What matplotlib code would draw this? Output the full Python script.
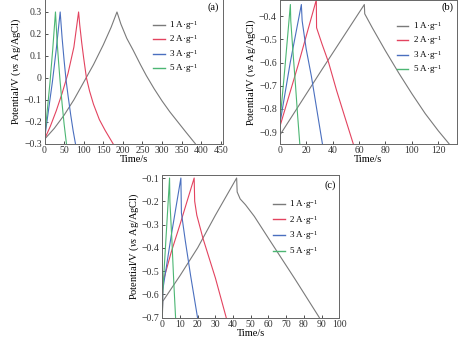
import matplotlib
matplotlib.use("Agg")
import matplotlib.pyplot as plt
from matplotlib.ticker import FuncFormatter

plt.rcParams["font.family"] = ["Liberation Serif", "DejaVu Serif"]
plt.rcParams["mathtext.fontset"] = "custom"
plt.rcParams["mathtext.rm"] = "Liberation Serif"
plt.rcParams["mathtext.it"] = "Liberation Serif:italic"

labels = ["1 A·g$^{-1}$", "2 A·g$^{-1}$", "3 A·g$^{-1}$", "5 A·g$^{-1}$"]
colors = ["#7a7a7a", "#e3435f", "#4a6fbf", "#4cb673"]

# panel (a)
a_time = [
    [0, 25, 50, 75, 100, 125, 150, 170, 185,
     195, 210, 226, 245, 260, 280, 300, 320, 340, 360, 385],
    [0, 15, 30, 45, 60, 75, 87,
     90, 95, 100, 107, 115, 125, 140, 155, 175],
    [0, 10, 20, 30, 40, 45, 50, 55, 60, 67, 73, 79],
    [0, 7, 14, 21, 28, 32, 36, 40, 45, 50, 56],
]
a_pot = [
    [-0.28, -0.23, -0.17, -0.1, -0.02, 0.06, 0.15, 0.23, 0.3,
     0.245, 0.18, 0.127, 0.06, 0.01, -0.05, -0.105, -0.155, -0.2, -0.245, -0.3],
    [-0.28, -0.22, -0.15, -0.07, 0.02, 0.14, 0.3,
     0.24, 0.16, 0.09, 0.0, -0.06, -0.12, -0.19, -0.24, -0.3],
    [-0.28, -0.15, -0.02, 0.13, 0.3, 0.18, 0.08, -0.01, -0.08, -0.17, -0.24, -0.3],
    [-0.28, -0.15, -0.02, 0.13, 0.3, 0.17, 0.07, -0.02, -0.12, -0.21, -0.3],
]

# panel (b)
b_time = [
    [0, 0.5, 32, 64, 64.3, 70, 80, 90, 100, 110, 120, 128],
    [0, 0.5, 14, 27.7, 27.9, 32, 37, 43, 49, 55.6],
    [0, 0.3, 8, 16.4, 17, 20, 24, 28, 32.3],
    [0, 0.3, 4, 8.1, 8.4, 10, 12, 13.6, 15.2],
]
b_pot = [
    [-0.95, -0.91, -0.63, -0.35, -0.39, -0.45, -0.55, -0.645, -0.735, -0.82, -0.895, -0.95],
    [-0.95, -0.87, -0.61, -0.33, -0.45, -0.52, -0.6, -0.72, -0.83, -0.95],
    [-0.95, -0.86, -0.6, -0.35, -0.42, -0.54, -0.66, -0.8, -0.95],
    [-0.95, -0.85, -0.62, -0.35, -0.42, -0.55, -0.7, -0.83, -0.95],
]

# panel (c)
c_time = [
    [0, 0.3, 10, 20, 30, 42, 42.3, 44, 47, 52, 60.9, 75, 88.7],
    [0, 0.3, 5, 10, 18, 18.3, 19.5, 23, 30, 36.1],
    [0, 0.3, 5, 10.5, 10.8, 13, 16, 19.9],
    [0, 0.2, 2, 4.1, 4.3, 5.5, 6.5, 7.5],
]
c_pot = [
    [-0.7, -0.63, -0.52, -0.4, -0.26, -0.1, -0.16, -0.19, -0.215, -0.265, -0.37, -0.535, -0.7],
    [-0.7, -0.55, -0.42, -0.3, -0.1, -0.2, -0.26, -0.36, -0.53, -0.7],
    [-0.7, -0.58, -0.35, -0.1, -0.25, -0.37, -0.52, -0.7],
    [-0.7, -0.6, -0.37, -0.1, -0.2, -0.38, -0.55, -0.7],
]


def tick_fmt(v, pos):
    s = "%g" % round(v, 2)
    return s.replace("-", "\u2212")


def draw_panel(ax, times, pots, tag, xlim, ylim, xticks, yticks, leg_xy, spacing, tag_xy):
    for t, v, c, lab in zip(times, pots, colors, labels):
        ax.plot(t, v, color=c, lw=0.8, label=lab)
    ax.set_xlim(*xlim)
    ax.set_ylim(*ylim)
    ax.set_xticks(xticks)
    ax.set_yticks(yticks)
    ax.yaxis.set_major_formatter(FuncFormatter(tick_fmt))
    ax.tick_params(direction="in", length=2.5, width=0.6, labelsize=7,
                   colors="#333333", pad=2)
    for s in ax.spines.values():
        s.set_color("#666666")
        s.set_linewidth(0.7)
    ax.set_xlabel("Time/s", fontsize=7.5, labelpad=0)
    ax.set_ylabel("Potential/V ($\\mathit{vs}$ Ag/AgCl)", fontsize=7.5, labelpad=0.5)
    leg = ax.legend(loc="upper left", bbox_to_anchor=leg_xy, frameon=False,
                    fontsize=6.5, handlelength=1.3, handletextpad=0.5,
                    labelspacing=spacing, borderpad=0, borderaxespad=0)
    for h in leg.get_lines():
        h.set_linewidth(1.0)
    ax.text(tag_xy[0], tag_xy[1], tag, transform=ax.transAxes, fontsize=7.5,
            ha="center", va="center")


fig = plt.figure(figsize=(4.74, 3.42), dpi=100)

ax_a = fig.add_axes([0.0939, 0.5798, 0.376, 0.4237])
draw_panel(ax_a, a_time, a_pot, "(a)", (0, 455), (-0.3, 0.36),
           range(0, 451, 50), [-0.3, -0.2, -0.1, 0, 0.1, 0.2, 0.3],
           (0.61, 0.86), 0.15, (0.947, 0.943))

ax_b = fig.add_axes([0.590, 0.5798, 0.374, 0.4205])
draw_panel(ax_b, b_time, b_pot, "(b)", (0, 134), (-0.95, -0.33),
           range(0, 121, 20), [-0.9, -0.8, -0.7, -0.6, -0.5, -0.4],
           (0.66, 0.86), 0.15, (0.944, 0.95))

ax_c = fig.add_axes([0.3424, 0.0716, 0.3734, 0.4167])
draw_panel(ax_c, c_time, c_pot, "(c)", (0, 100), (-0.7, -0.087),
           range(0, 101, 10), [-0.7, -0.6, -0.5, -0.4, -0.3, -0.2, -0.1],
           (0.625, 0.84), 0.3, (0.947, 0.93))

fig.savefig("out.png", dpi=100)
